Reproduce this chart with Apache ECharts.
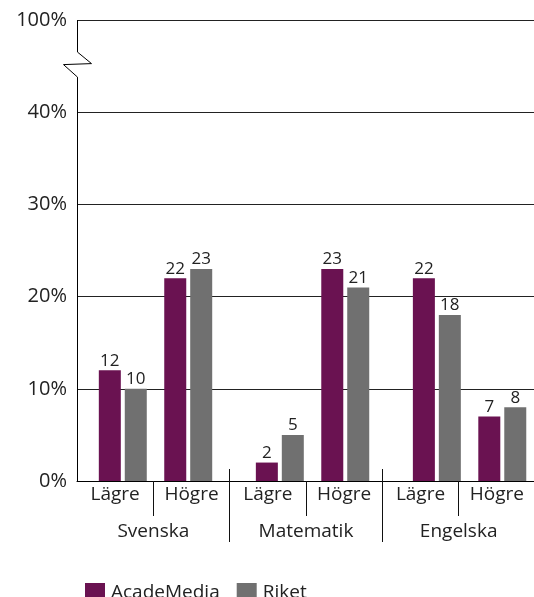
<!DOCTYPE html>
<html>
<head>
<meta charset="utf-8">
<script src="https://cdn.jsdelivr.net/npm/echarts@6/dist/echarts.min.js"></script>
<style>
  html, body { margin: 0; padding: 0; background: #fff; }
  #chart { width: 534px; height: 597px; }
</style>
</head>
<body>
<div id="chart"></div>
<script>
// ---- data ----
const categories = ['Lägre', 'Högre', 'Lägre', 'Högre', 'Lägre', 'Högre'];
const groups = ['Svenska', 'Matematik', 'Engelska'];
const seriesNames = ['AcadeMedia', 'Riket'];
const academedia = [12, 22, 2, 23, 22, 7];
const riket = [10, 23, 5, 21, 18, 8];
const yTickValues = [0, 10, 20, 30, 40, 50];
const yTickLabels = ['0%', '10%', '20%', '30%', '40%', '100%'];

// ---- layout helpers (bar slots on a fine hidden category axis) ----
const nSlots = 35;
const barSlots = [3, 8, 15, 20, 27, 32];
const slotNames = Array.from({length: nSlots}, (_, i) => 's' + i);
function toSlots(values) {
  const arr = new Array(nSlots).fill(null);
  values.forEach((v, i) => { arr[barSlots[i]] = v; });
  return arr;
}
const labelMap = {};
yTickValues.forEach((v, i) => { labelMap[v] = yTickLabels[i]; });

const FONT = 'Open Sans';
const TXT = '#222';
const chart = echarts.init(document.getElementById('chart'), null, {renderer: 'canvas'});

const barLabel = {
  show: true, position: 'top', distance: 1,
  fontFamily: FONT, fontSize: 17, color: TXT
};

chart.setOption({
  animation: false,
  textStyle: {fontFamily: FONT},
  grid: {left: 77, right: -1, top: 20, bottom: 116, containLabel: false, outerBoundsMode: 'none'},
  legend: {
    left: 80, top: 578, itemWidth: 20, itemHeight: 20, itemGap: 17,
    icon: 'rect',
    textStyle: {fontFamily: FONT, fontSize: 19, color: TXT, padding: [0, 0, 0, 1]},
    data: seriesNames
  },
  xAxis: [
    {
      type: 'category', data: categories, position: 'bottom',
      axisLine: {show: true, lineStyle: {color: '#000', width: 1}},
      axisTick: {show: true, interval: (i) => i % 2 === 1, length: 35, lineStyle: {color: '#111', width: 1}},
      axisLabel: {interval: 0, fontFamily: FONT, fontSize: 19, color: TXT, margin: 4}
    },
    {
      type: 'category', data: groups, position: 'bottom',
      axisLine: {show: false},
      axisTick: {show: true, interval: (i) => i >= 1, length: 61, lineStyle: {color: '#111', width: 1}},
      axisLabel: {interval: 0, fontFamily: FONT, fontSize: 19, color: TXT, margin: 41}
    },
    {
      type: 'category', data: groups, position: 'bottom',
      axisLine: {show: false},
      axisTick: {show: true, inside: true, interval: (i) => i >= 1, length: 12, lineStyle: {color: '#111', width: 1}},
      axisLabel: {show: false}
    },
    {
      type: 'category', data: slotNames, position: 'bottom', show: false
    }
  ],
  yAxis: {
    type: 'value', min: 0, max: 50, interval: 10,
    axisLine: {show: false}, axisTick: {show: false},
    axisLabel: {
      fontFamily: FONT, fontSize: 20, color: TXT, margin: 10,
      formatter: (v) => labelMap[v] !== undefined ? labelMap[v] : ''
    },
    splitLine: {show: true, lineStyle: {color: '#222', width: 1}}
  },
  series: [
    {
      name: seriesNames[0], type: 'bar', xAxisIndex: 3,
      data: toSlots(academedia), barWidth: 22, barGap: '18%',
      itemStyle: {color: '#6A1251'}, label: barLabel
    },
    {
      name: seriesNames[1], type: 'bar', xAxisIndex: 3,
      data: toSlots(riket), barWidth: 22, barGap: '18%',
      itemStyle: {color: '#707070'}, label: barLabel
    }
  ]
});

// y-axis line with break symbol, positioned via axis scales
const c0 = chart.convertToPixel({xAxisIndex: 0}, 0);
const c1 = chart.convertToPixel({xAxisIndex: 0}, 1);
const x0 = Math.round(c0 - (c1 - c0) / 2) + 0.5;
const y0 = chart.convertToPixel({yAxisIndex: 0}, 0);
const yTop = chart.convertToPixel({yAxisIndex: 0}, 50);
const yb = chart.convertToPixel({yAxisIndex: 0}, 45);
chart.setOption({
  graphic: [{
    type: 'polyline', z: 100,
    shape: {points: [[x0, yTop], [x0, yb - 14], [x0 + 14, yb - 2.5], [x0 - 14, yb - 1.5], [x0, yb + 11], [x0, y0]]},
    style: {stroke: '#000', lineWidth: 1, fill: null}
  }]
});
</script>
</body>
</html>
